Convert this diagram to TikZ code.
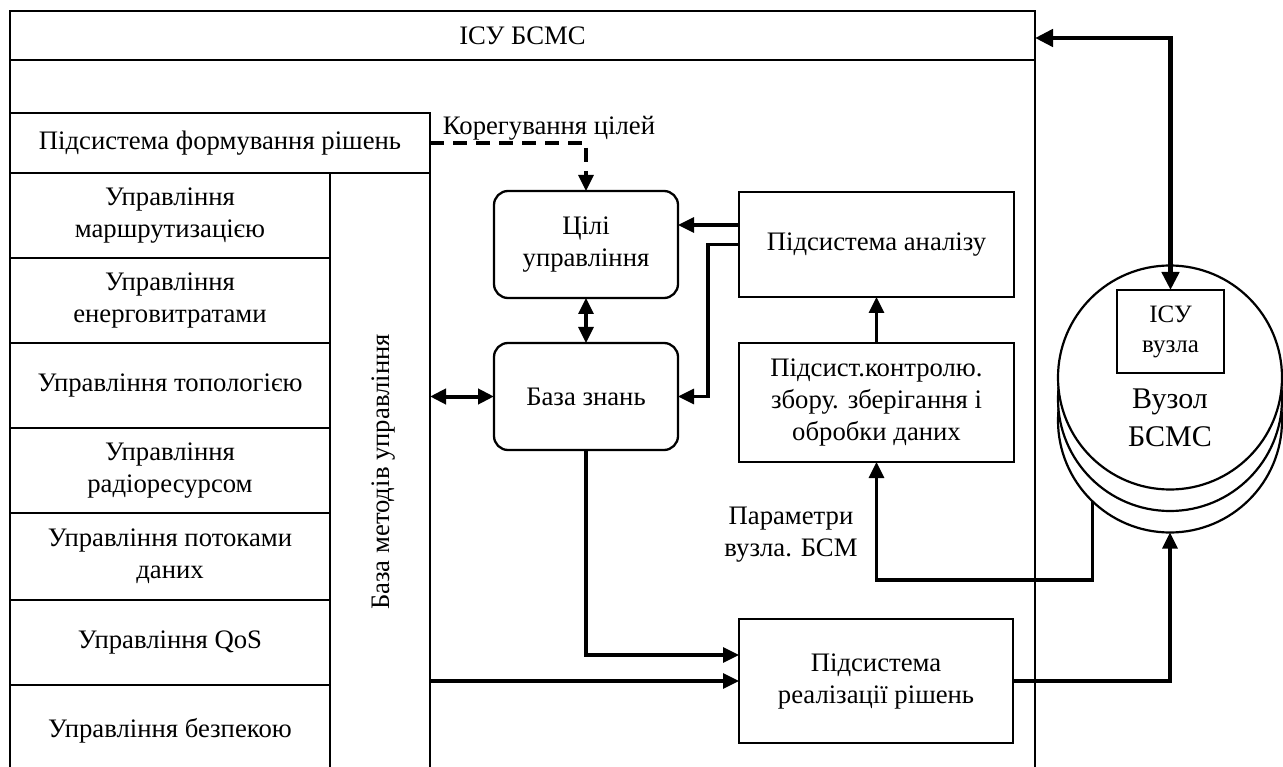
\documentclass[tikz,border=0pt]{standalone}
\usepackage{fontspec}
\setmainfont{Liberation Serif}
\usetikzlibrary{arrows.meta,calc}
\begin{document}
\begin{tikzpicture}[x=1pt,y=-1pt,
  every node/.style={font=\fontsize{26.7}{32}\selectfont, inner sep=0pt, outer sep=0pt},
  frameline/.style={line width=2.8pt},
  cell/.style 2 args={draw, line width=2.3pt, minimum width=#1, minimum height=#2, align=center},
  rbox/.style 2 args={draw, line width=2.3pt, rounded corners=14pt, minimum width=#1, minimum height=#2, align=center},
  tip/.style={Triangle[length=16pt,width=15pt]},
  arr/.style={line width=3.2pt, -{Triangle[length=16pt,width=15pt]}},
  darr/.style={line width=3.2pt, {Triangle[length=16pt,width=15pt]}-{Triangle[length=16pt,width=15pt]}},
  bigdarr/.style={line width=4.8pt, {Triangle[length=18pt,width=17pt]}-{Triangle[length=18pt,width=17pt]}},
  disk/.style={circle, draw, fill=white, line width=2.2pt, minimum size=224}
]
\useasboundingbox (0,0) rectangle (1283,767);
\clip (0,0) rectangle (1283,767);

% outer frame with its title bar
\node[draw, frameline, minimum width=1025, minimum height=49] (title) at (522.5,35.5) {ІСУ БСМС};
\draw[frameline] (title.south west) -- ++(0,720);
\draw[frameline] (title.south east) -- ++(0,720);

% decision-making subsystem and its list of control functions
\node[cell={420}{60}] (form) at (220,143) {Підсистема формування рішень};
\node[draw, line width=2.3pt, minimum width=100, minimum height=610, anchor=north west] (bm) at (330,173) {};
\node[rotate=90] (bmtext) at (384,472) {База методів управління};

\node[cell={320}{85}, anchor=north west] (r1) at (10,173) {Управління\\маршрутизацією};
\node[cell={320}{85}, anchor=north west] (r2) at (10,258) {Управління\\енерговитратами};
\node[cell={320}{85}, anchor=north west] (r3) at (10,343) {Управління топологією};
\node[cell={320}{85}, anchor=north west] (r4) at (10,428) {Управління\\радіоресурсом};
\node[cell={320}{87}, anchor=north west] (r5) at (10,513) {Управління потоками\\даних};
\node[cell={320}{85}, anchor=north west] (r6) at (10,600) {Управління QoS};
\node[cell={320}{92}, anchor=north west] (r7) at (10,685) {Управління безпекою};

% central blocks
\node[rbox={184}{107}] (goal) at (586,244.5) {Цілі\\управління};
\node[rbox={184}{107}] (kb) at (586,396.5) {База знань};
\node[cell={275}{105}] (analysis) at (876.5,244.5) {Підсистема аналізу};
\node[cell={275}{119}] (control) at (876.5,402.5) {Підсист.контролю.\\збору. зберігання і\\обробки даних};
\node[cell={274}{124}] (real) at (876,681) {Підсистема\\реалізації рішень};

% network node: three stacked disks
\node[disk] (n3) at (1170,420.5) {};
\node[disk] (n2) at (1170,399) {};
\node[disk] (n1) at (1170,377.5) {};
\node[draw, line width=2.2pt, minimum width=107, minimum height=83, align=center,
      font=\fontsize{25}{30}\selectfont] (isu) at (1170.5,331.5) {ІСУ\\вузла};
\node[align=center, font=\fontsize{30}{38}\selectfont] (nodelbl) at (1170,418) {Вузол\\БСМС};

% labels
\node (corlbl) at (549,128) {Корегування цілей};
\node[align=center] (plbl) at (791,535) {Параметри\\вузла. БСМ};

% connectors
\draw[arr, dash pattern=on 14pt off 9pt] (form.east) -| (goal.north);
\draw[arr] ([yshift=19.5pt]analysis.west) -- ([yshift=19.5pt]goal.east);
\draw[arr] (analysis.west) -- ++(-31,0) |- (kb.east);
\draw[arr] (control.north) -- (analysis.south);
\draw[darr] (goal.south) -- (kb.north);
\draw[darr, line width=4pt] (bm.east |- kb.west) -- (kb.west);
\draw[arr] (kb.south) |- ([yshift=26pt]real.west);
\draw[arr] (bm.east |- real.west) -- (real.west);
\draw[arr] (n3.226) -- ++(0,79) -| (control.south);
\draw[arr] (real.east) -| (n3.south);
\draw[bigdarr] ([yshift=-2.5pt]title.east) -| (isu.north);
\end{tikzpicture}
\end{document}
